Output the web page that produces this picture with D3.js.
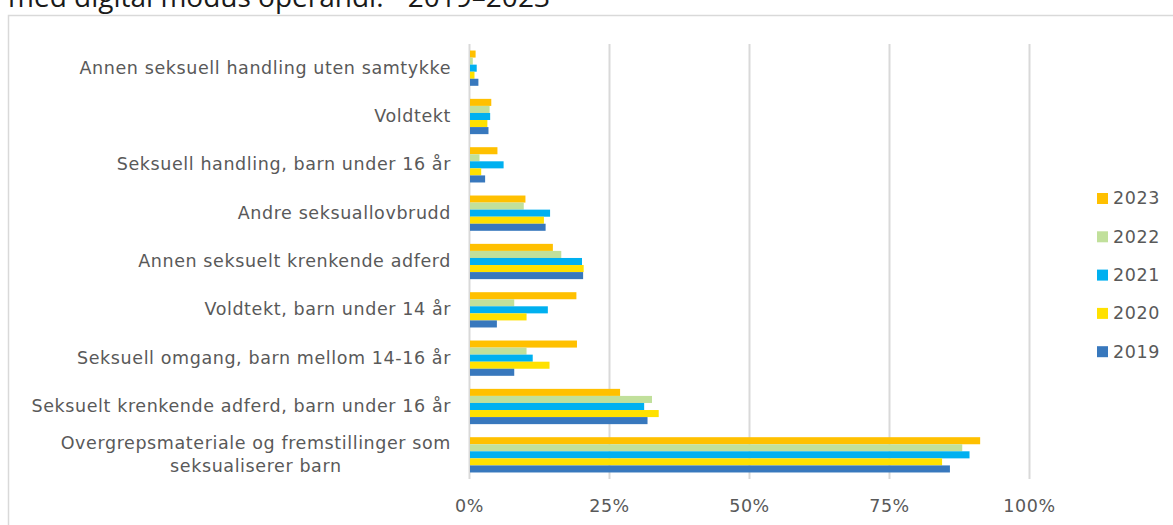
<!DOCTYPE html>
<html>
<head>
<meta charset="utf-8">
<script src="https://cdn.jsdelivr.net/npm/d3@7"></script>
<style>
  body { margin: 0; background: #fff; }
  svg { display: block; }
</style>
</head>
<body>
<div id="chart"></div>
<script>
// categories, top to bottom
const categories = [
  "Annen seksuell handling uten samtykke",
  "Voldtekt",
  "Seksuell handling, barn under 16 år",
  "Andre seksuallovbrudd",
  "Annen seksuelt krenkende adferd",
  "Voldtekt, barn under 14 år",
  "Seksuell omgang, barn mellom 14-16 år",
  "Seksuelt krenkende adferd, barn under 16 år",
  "Overgrepsmateriale og fremstillinger som seksualiserer barn"
];

// years, top bar of each group first
const years = ["2023", "2022", "2021", "2020", "2019"];

// share per category (%), one array per year
const values2019 = [1.5, 3.3, 2.7, 13.5, 20.2, 4.8, 7.9, 31.7, 85.7];
const values2020 = [0.8, 3.1, 2.0, 13.2, 20.3, 10.1, 14.2, 33.7, 84.3];
const values2021 = [1.2, 3.6, 6.0, 14.3, 20.0, 13.9, 11.2, 31.1, 89.2];
const values2022 = [0.5, 3.5, 1.7, 9.6, 16.3, 7.9, 10.1, 32.5, 87.9];
const values2023 = [1.0, 3.8, 4.9, 9.9, 14.8, 19.0, 19.1, 26.8, 91.1];

const xTicks = [0, 25, 50, 75, 100];

const seriesValues = {
  "2019": values2019, "2020": values2020, "2021": values2021,
  "2022": values2022, "2023": values2023
};

const colors = {
  "2023": "#ffc000",
  "2022": "#c1e09b",
  "2021": "#00b0f0",
  "2020": "#ffe100",
  "2019": "#3878bd"
};

const W = 1173, H = 525;
const font = "'DejaVu Sans', Verdana, sans-serif";
const textColor = "#595959";
const gridColor = "#d9d9d9";

const svg = d3.select("#chart").append("svg")
    .attr("width", W)
    .attr("height", H);

// title, cut off at the top like in the source
svg.append("text")
    .attr("x", 8)
    .attr("y", 7)
    .style("font-family", "'Open Sans', 'Noto Sans', sans-serif")
    .style("font-size", "28px")
    .style("fill", "#1a1a1a")
    .style("white-space", "pre")
    .text("med digital modus operandi.”  2019–2023");

// chart frame
svg.append("rect")
    .attr("x", 8.5)
    .attr("y", 15.5)
    .attr("width", W + 20)
    .attr("height", H + 20)
    .attr("fill", "none")
    .attr("stroke", gridColor)
    .attr("stroke-width", 1.5);

// plot area
const plot = { left: 469, right: 1029, top: 44, bottom: 479 };

const x = d3.scaleLinear()
    .domain([0, 100])
    .range([plot.left, plot.right]);

const y0 = d3.scaleBand()
    .domain(categories)
    .range([plot.top, plot.bottom])
    .paddingInner(0.27)
    .paddingOuter(0.135);

const y1 = d3.scaleBand()
    .domain(years)
    .range([0, y0.bandwidth()]);

// grid lines
const grid = svg.append("g")
    .attr("transform", `translate(0,${plot.bottom})`)
    .call(d3.axisBottom(x).tickValues(xTicks).tickSize(-(plot.bottom - plot.top)).tickFormat(""));
grid.select(".domain").remove();
grid.selectAll("line")
    .attr("stroke", gridColor)
    .attr("stroke-width", 2);

// x axis labels
const xAxis = svg.append("g")
    .attr("transform", `translate(0,${plot.bottom})`)
    .call(d3.axisBottom(x).tickValues(xTicks).tickSize(0).tickPadding(21)
      .tickFormat(d => d + "%"));
xAxis.select(".domain").remove();
xAxis.selectAll("text")
    .style("font-family", font)
    .style("font-size", "17.5px")
    .style("letter-spacing", "0.6px")
    .style("fill", textColor);

// bars
const groups = svg.append("g")
  .selectAll("g")
  .data(categories)
  .join("g")
    .attr("transform", d => `translate(0,${y0(d)})`);

groups.selectAll("rect")
  .data((d, i) => years.map(yr => ({ year: yr, value: seriesValues[yr][i] })))
  .join("rect")
    .attr("x", x(0) + 1)
    .attr("y", d => y1(d.year))
    .attr("width", d => x(d.value) - x(0))
    .attr("height", y1.bandwidth())
    .attr("fill", d => colors[d.year]);

// category axis
const yAxis = svg.append("g")
    .attr("transform", `translate(${plot.left},0)`)
    .call(d3.axisLeft(y0).tickSize(0).tickPadding(18));
yAxis.select(".domain").remove();
yAxis.selectAll("text")
    .style("font-family", font)
    .style("font-size", "17.5px")
    .style("letter-spacing", "0.6px")
    .style("fill", textColor);

// wrap the long last label on two lines, centred on each other
yAxis.selectAll(".tick text")
  .filter(d => d === categories[categories.length - 1])
  .each(function(d) {
    const t = d3.select(this);
    const xPos = +t.attr("x");
    const lines = ["Overgrepsmateriale og fremstillinger som", "seksualiserer barn"];
    t.text(null).attr("dy", null);
    const t1 = t.append("tspan").attr("x", xPos).attr("dy", "-0.33em").text(lines[0]);
    const t2 = t.append("tspan").attr("x", xPos).attr("dy", "1.3em").text(lines[1]);
    const w1 = t1.node().getComputedTextLength();
    const w2 = t2.node().getComputedTextLength();
    t2.attr("x", xPos - (w1 - w2) / 2);
  });

// legend
const legendYears = ["2023", "2022", "2021", "2020", "2019"];
const legend = svg.append("g")
    .attr("transform", "translate(1097,198)");

const items = legend.selectAll("g")
  .data(legendYears)
  .join("g")
    .attr("transform", (d, i) => `translate(0,${i * 38.3})`);

items.append("rect")
    .attr("x", 0)
    .attr("y", -5)
    .attr("width", 11)
    .attr("height", 11)
    .attr("fill", d => colors[d]);

items.append("text")
    .attr("x", 16)
    .attr("y", 0)
    .attr("dy", "0.36em")
    .style("font-family", font)
    .style("font-size", "17.5px")
    .style("letter-spacing", "0.6px")
    .style("fill", textColor)
    .text(d => d);
</script>
</body>
</html>
